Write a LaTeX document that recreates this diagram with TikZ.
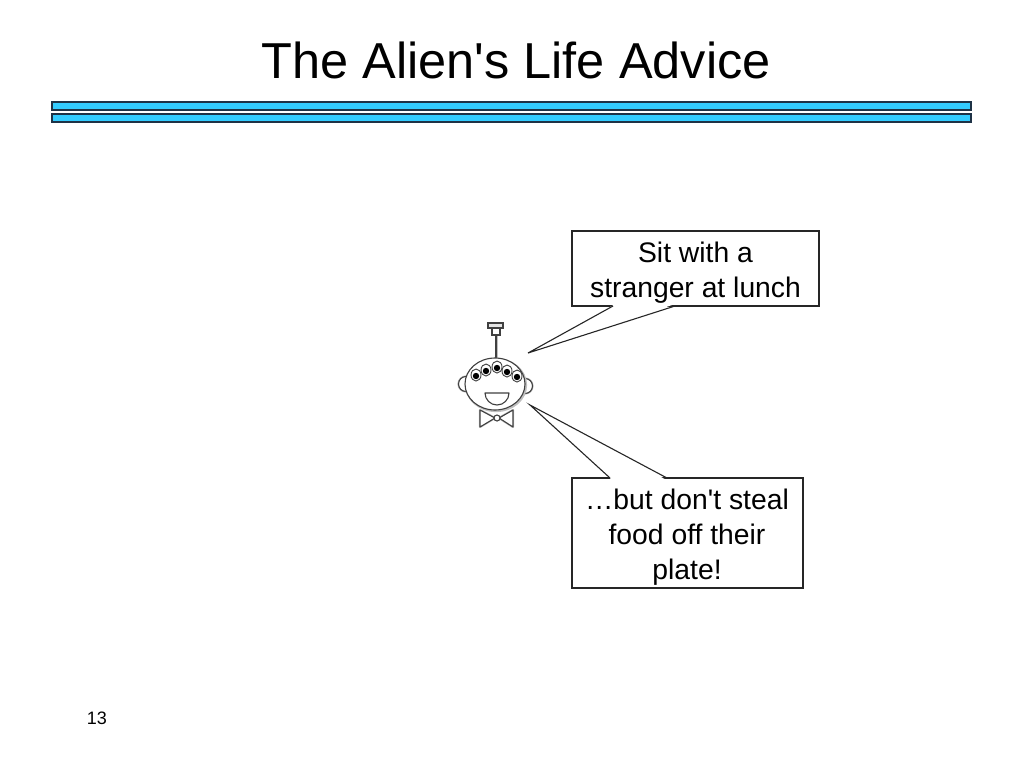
\documentclass[tikz,border=0pt]{standalone}
\usepackage{fontspec}
\setmainfont{Liberation Sans}[Ligatures=TeXOff]
\begin{document}
\begin{tikzpicture}[x=1pt,y=-1pt,
  bar/.style={draw=barline,fill=barfill,line width=1.4pt},
  balloon/.style={draw=black!85,line width=1.1pt,fill=white,inner sep=0pt},
  btext/.style={align=center,inner sep=0pt,font=\fontsize{28.3}{35}\selectfont},
  tail/.style={draw=black!85,line width=1.1pt,line join=miter},
  alien/.style={draw=black!75,line width=1.1pt,fill=white},
  shade/.style={draw=black!25,line width=2.2pt},
]
\definecolor{barfill}{RGB}{51,204,255}
\definecolor{barline}{RGB}{30,50,70}
\useasboundingbox (0,0) rectangle (1024,768);
% title
\node (title) at (516,60) {\fontsize{50.5}{55}\selectfont The Alien's Life Advice};
% bars
\draw[bar] (52,102) rectangle (971,110);
\draw[bar] (52,114) rectangle (971,122);
% alien
\coordinate (alien) at (495,384);
% antenna
\draw[shade] (497,325) -- (497,358);
\draw[alien] (496,335) -- (496,358);
\draw[alien,fill=black!10] (488,323) rectangle (503,328);
\draw[alien] (492,328) rectangle (500,335);
% ears
\draw[shade] (466,384) circle[radius=7.5];
\draw[shade] (525,386) circle[radius=7.5];
\draw[alien] (466,384) circle[radius=7.5];
\draw[alien] (525,386) circle[radius=7.5];
% head
\draw[shade] ([shift={(1,1)}]alien) ellipse[x radius=30,y radius=26];
\draw[alien] (alien) ellipse[x radius=30,y radius=26];
% eyes
\foreach \ex/\ey in {476/375,486/370,497/367,507/371,517/376}{
  \draw[alien,line width=0.9pt] (\ex,\ey) ellipse[x radius=5,y radius=6];
  \fill[black] (\ex,\ey+1) circle[radius=3.2];
}
% mouth
\draw[alien,line join=round] (485,393) -- (509,393) arc[start angle=0,end angle=180,x radius=12,y radius=12] -- cycle;
% bowtie
\draw[shade,line join=round] (480,410) -- (495,418) -- (480,427) -- cycle;
\draw[shade,line join=round] (513,410) -- (499,418) -- (513,427) -- cycle;
\draw[alien,line join=round] (480,410) -- (495,418) -- (480,427) -- cycle;
\draw[alien,line join=round] (513,410) -- (499,418) -- (513,427) -- cycle;
\draw[alien] (497,418) circle[radius=3];
% balloons
\node[balloon,minimum width=247pt,minimum height=75pt] (b1) at (695.5,268.5) {};
\node[btext] (b1t) at (695.5,272.5) {Sit with a\\stranger at lunch};
\node[balloon,minimum width=231pt,minimum height=110pt] (b2) at (687.5,533) {};
\node[btext] (b2t) at (687,537) {\ldots but don't steal\\food off their\\plate!};
\coordinate (t1) at (528,353);
\coordinate (t2) at (530,405);
\coordinate (b1a) at (613,306);
\coordinate (b1b) at (675,306);
\coordinate (b2a) at (610,478);
\coordinate (b2b) at (667,478);
\fill[white] ([shift={(1.5,-1.5)}]b1a) -- (t1) -- ([shift={(-1.5,-1.5)}]b1b) -- cycle;
\fill[white] ([shift={(1.5,1.5)}]b2a) -- (t2) -- ([shift={(-1.5,1.5)}]b2b) -- cycle;
\draw[tail] (b1a) -- (t1) -- (b1b);
\draw[tail] (b2a) -- (t2) -- (b2b);
% page number
\node (num) at (97,718) {\fontsize{18}{20}\selectfont 13};
\end{tikzpicture}
\end{document}
